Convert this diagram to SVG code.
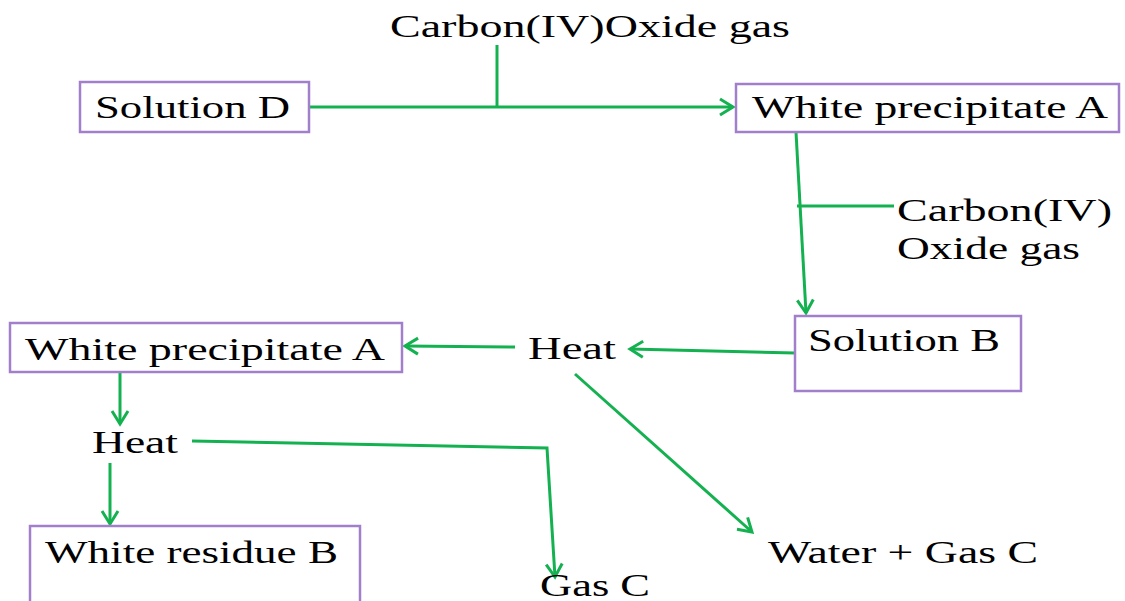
<svg xmlns="http://www.w3.org/2000/svg" width="1125" height="601" viewBox="0 0 1125 601">
<style>
.box{fill:#fff;stroke:#a27fcb;stroke-width:2.5}
.t{font-family:"Liberation Serif","Times New Roman",serif;font-size:31px;fill:#000}
.c{fill:none;stroke:#14b150;stroke-width:3}
.a{marker-end:url(#arr)}
</style>
<defs>
<marker id="arr" markerUnits="userSpaceOnUse" markerWidth="20" markerHeight="20" viewBox="0 0 20 20" refX="17" refY="10" orient="auto">
<path d="M4,2 L17,10 L4,18" fill="none" stroke="#14b150" stroke-width="3"/>
</marker>
</defs>
<rect width="1125" height="601" fill="#fff"/>
<g id="connectors">
<path class="c a" d="M309,107 L733,107"/>
<path class="c" d="M497,45 L497,107"/>
<path class="c a" d="M796,132 L806,313"/>
<path class="c" d="M797,206 L894,206"/>
<path class="c a" d="M795,353 L630,349"/>
<path class="c a" d="M515,347 L405,346"/>
<path class="c a" d="M120,373 L120,424"/>
<path class="c a" d="M110,463 L110,524"/>
<path class="c a" d="M192,441 L547,448 L555,577"/>
<path class="c a" d="M575,374 L752,532"/>
</g>
<g id="carbon-top"><text class="t" x="390" y="37" textLength="400" lengthAdjust="spacingAndGlyphs">Carbon(IV)Oxide gas</text></g>
<g id="solution-d"><rect class="box" x="80" y="82" width="229" height="50"/><text class="t" x="95" y="118" textLength="195" lengthAdjust="spacingAndGlyphs">Solution D</text></g>
<g id="white-ppt-top"><rect class="box" x="736" y="84" width="383" height="48"/><text class="t" x="752" y="118" textLength="356" lengthAdjust="spacingAndGlyphs">White precipitate A</text></g>
<g id="carbon-right"><text class="t" x="897" y="221" textLength="215" lengthAdjust="spacingAndGlyphs">Carbon(IV)</text><text class="t" x="897" y="259" textLength="183" lengthAdjust="spacingAndGlyphs">Oxide gas</text></g>
<g id="solution-b"><rect class="box" x="795" y="316" width="226" height="75"/><text class="t" x="808" y="351" textLength="192" lengthAdjust="spacingAndGlyphs">Solution B</text></g>
<g id="heat-mid"><text class="t" x="528" y="359" textLength="88" lengthAdjust="spacingAndGlyphs">Heat</text></g>
<g id="white-ppt-left"><rect class="box" x="10" y="323" width="392" height="49"/><text class="t" x="25" y="360" textLength="360" lengthAdjust="spacingAndGlyphs">White precipitate A</text></g>
<g id="heat-left"><text class="t" x="92" y="453" textLength="86" lengthAdjust="spacingAndGlyphs">Heat</text></g>
<g id="white-residue"><rect class="box" x="30" y="526" width="330" height="90"/><text class="t" x="45" y="563" textLength="293" lengthAdjust="spacingAndGlyphs">White residue B</text></g>
<g id="gas-c"><text class="t" x="540" y="596" textLength="110" lengthAdjust="spacingAndGlyphs">Gas C</text></g>
<g id="water-gas-c"><text class="t" x="768" y="563" textLength="270" lengthAdjust="spacingAndGlyphs">Water + Gas C</text></g>
</svg>
